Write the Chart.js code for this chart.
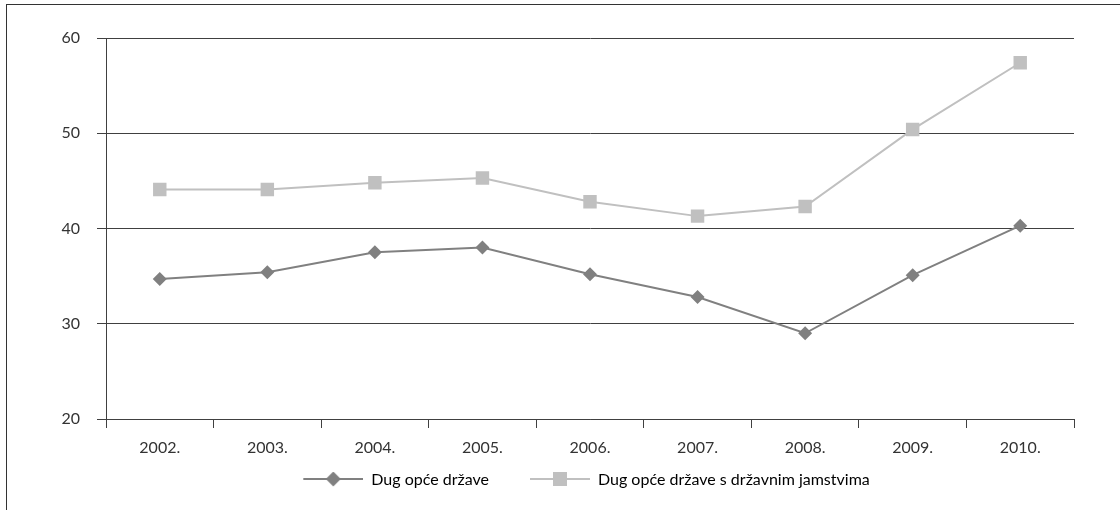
<!DOCTYPE html>
<html>
<head>
<meta charset="utf-8">
<script src="https://cdn.jsdelivr.net/npm/chart.js@4.4.0/dist/chart.umd.min.js"></script>
<style>
  html, body { margin: 0; padding: 0; background: #fff; }
  #wrap { position: relative; width: 1120px; height: 510px; }
  #frame {
    position: absolute; left: 6px; top: 4px; right: 0; bottom: 0;
    border-top: 1px solid #333; border-left: 1px solid #333;
  }
  #chart { position: absolute; left: 0; top: 0; }
</style>
</head>
<body>
<div id="wrap">
  <div id="frame"></div>
  <canvas id="chart" width="1120" height="510"></canvas>
</div>
<script>
// data
const years = ["2002.", "2003.", "2004.", "2005.", "2006.", "2007.", "2008.", "2009.", "2010."];
const dugOpceDrzave = [34.7, 35.4, 37.5, 38.0, 35.2, 32.8, 29.0, 35.1, 40.3];
const dugSJamstvima = [44.1, 44.1, 44.8, 45.3, 42.8, 41.3, 42.3, 50.4, 57.4];
const yTicks = [20, 30, 40, 50, 60];

const seriesNames = ["Dug opće države", "Dug opće države s državnim jamstvima"];
const darkGrey = "#808080";
const lightGrey = "#c0c0c0";
const axisColor = "#404040";
const textColor = "#333";

// legend symbol: 60px line with the marker in the middle, sitting at the
// right end of a wider transparent picture (the empty part is the gap
// between the two legend items)
function legendIcon(color, shape) {
  const c = document.createElement("canvas");
  c.width = 101;
  c.height = 16;
  const g = c.getContext("2d");
  g.strokeStyle = color;
  g.lineWidth = 2;
  g.beginPath();
  g.moveTo(41, 7);
  g.lineTo(101, 7);
  g.stroke();
  g.fillStyle = color;
  g.beginPath();
  if (shape === "diamond") {
    g.moveTo(71, -0.5);
    g.lineTo(78.5, 7);
    g.lineTo(71, 14.5);
    g.lineTo(63.5, 7);
    g.closePath();
  } else {
    g.rect(64, 0, 14, 14);
  }
  g.fill();
  return c;
}

const icons = [legendIcon(darkGrey, "diamond"), legendIcon(lightGrey, "square")];

new Chart(document.getElementById("chart"), {
  type: "line",
  data: {
    labels: years,
    datasets: [
      {
        label: seriesNames[0],
        data: dugOpceDrzave,
        borderColor: darkGrey,
        backgroundColor: darkGrey,
        borderWidth: 2,
        pointStyle: "rectRot",
        pointRadius: 7,
        pointHoverRadius: 7,
        pointBorderWidth: 0,
        tension: 0,
      },
      {
        label: seriesNames[1],
        data: dugSJamstvima,
        borderColor: lightGrey,
        backgroundColor: lightGrey,
        borderWidth: 2,
        pointStyle: "rect",
        pointRadius: 9.5,
        pointHoverRadius: 9.5,
        pointBorderWidth: 0,
        tension: 0,
      },
    ],
  },
  options: {
    responsive: false,
    animation: false,
    layout: { padding: { left: 58, right: 46, top: 38, bottom: 12 } },
    plugins: {
      tooltip: { enabled: false },
      legend: {
        position: "bottom",
        labels: {
          usePointStyle: true,
          pointStyleWidth: 101,
          padding: 0,
          color: textColor,
          font: { family: "Lato", size: 16 },
          generateLabels: (chart) =>
            chart.data.datasets.map((ds, i) => ({
              text: ds.label,
              pointStyle: icons[i],
              fillStyle: ds.backgroundColor,
              strokeStyle: ds.borderColor,
              lineWidth: 0,
              datasetIndex: i,
            })),
        },
      },
    },
    scales: {
      x: {
        offset: true,
        afterFit: (s) => { s.height = 53; },
        grid: {
          offset: true,
          drawOnChartArea: false,
          drawTicks: true,
          tickLength: 9,
          color: axisColor,
        },
        border: { display: true, color: axisColor },
        ticks: {
          color: textColor,
          padding: 10,
          maxRotation: 0,
          autoSkip: false,
          font: { family: "Lato", size: 16 },
        },
      },
      y: {
        min: yTicks[0],
        max: yTicks[yTicks.length - 1],
        afterFit: (s) => { s.width = 48; },
        afterBuildTicks: (s) => { s.ticks = yTicks.map((v) => ({ value: v })); },
        grid: { color: axisColor, tickLength: 9, drawTicks: true },
        border: { display: true, color: axisColor },
        ticks: {
          color: textColor,
          padding: 17,
          font: { family: "Lato", size: 16 },
        },
      },
    },
  },
});
</script>
</body>
</html>
